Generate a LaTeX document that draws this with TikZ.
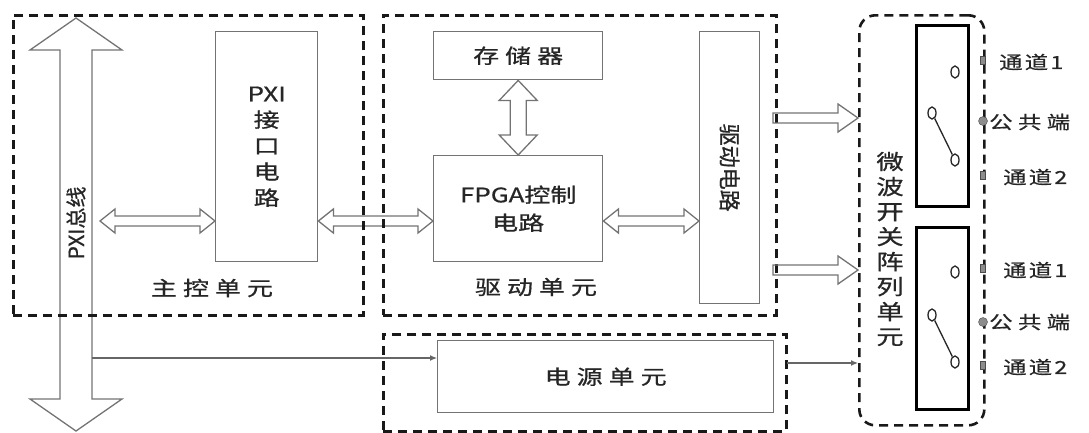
\documentclass[tikz,border=0pt]{standalone}
\usepackage{fontspec}
\setmainfont[FakeBold=0.8]{Noto Sans CJK SC}
\newfontfamily\cjkw[FakeStretch=1.3,FakeBold=0.8]{Noto Sans CJK SC}
\newfontfamily\cjkws[FakeStretch=1.3,FakeBold=0.8,LetterSpace=30]{Noto Sans CJK SC}
\newfontfamily\cjkwn[FakeStretch=1.3,FakeBold=0.8,LetterSpace=12]{Noto Sans CJK SC}
\usepackage{tikz}
\usetikzlibrary{arrows.meta, calc, shapes.geometric}

\tikzset{
  unitbox/.style={draw=black!90, line width=2.6pt, dash pattern=on 9pt off 6pt, inner sep=0, anchor=north west},
  blk/.style={draw=black!55, line width=1.4pt, inner sep=0, anchor=north west, text=black!85, align=center},
  swbox/.style={draw=black, line width=2.6pt, inner sep=0, anchor=north west},
  hollow/.style={draw=black!55, line width=1.3pt, line join=miter},
  thinarr/.style={-{Latex[length=7pt,width=6pt]}, draw=black!60, line width=1.2pt},
  contact/.style={ellipse, draw=black!85, line width=1.3pt, minimum width=8pt, minimum height=12pt, inner sep=0},
  term/.style={draw=black!70, fill=black!45, minimum width=5pt, minimum height=8pt, inner sep=0},
  termc/.style={circle, draw=black!70, fill=black!45, minimum size=9pt, inner sep=0},
  lbl/.style={text=black!85, inner sep=0},
}

% horizontal double hollow arrow
\newcommand{\dblh}[2]{%
  \draw[hollow] (#1) -- ($(#1)+(15,-12)$) -- ($(#1)+(15,-5)$) -- ($(#2)+(-15,-5)$) -- ($(#2)+(-15,-12)$) -- (#2)
    -- ($(#2)+(-15,12)$) -- ($(#2)+(-15,5)$) -- ($(#1)+(15,5)$) -- ($(#1)+(15,12)$) -- cycle;}
% vertical double hollow arrow: shaft, head, head length
\newcommand{\dblv}[5]{%
  \draw[hollow] (#1) -- ($(#1)+(#4,#5)$) -- ($(#1)+(#3,#5)$) -- ($(#2)+(#3,-#5)$) -- ($(#2)+(#4,-#5)$) -- (#2)
    -- ($(#2)+(-#4,-#5)$) -- ($(#2)+(-#3,-#5)$) -- ($(#1)+(-#3,#5)$) -- ($(#1)+(-#4,#5)$) -- cycle;}
% single hollow arrow
\newcommand{\sglh}[2]{%
  \draw[hollow] ($(#1)+(0,-5)$) -- ($(#2)+(-20,-5)$) -- ($(#2)+(-20,-14)$) -- (#2)
    -- ($(#2)+(-20,14)$) -- ($(#2)+(-20,5)$) -- ($(#1)+(0,5)$) -- cycle;}

\begin{document}
\begin{tikzpicture}[x=1pt,y=-1pt]
  \useasboundingbox (0,0) rectangle (1089,432);

  % PXI bus
  \coordinate (bustop) at (76,18);
  \coordinate (busbot) at (76,431);
  \dblv{bustop}{busbot}{16}{46}{32}
  \node[lbl, rotate=90, font=\fontsize{21}{24}\selectfont] (buslbl) at (76,223) {PXI总线};

  % Main control unit
  \node[blk, minimum width=102pt, minimum height=230pt, font=\cjkw\fontsize{20}{26}\selectfont] (pxi) at (215,31) {PXI\\接\\口\\电\\路};
  \node[lbl, font=\cjkws\fontsize{20}{24}\selectfont] (mainlbl) at (212,288) {主控单元};

  % Drive unit
  \node[blk, minimum width=169pt, minimum height=48pt, font=\cjkws\fontsize{20}{24}\selectfont] (mem) at (433,31) {存储器};
  \node[blk, minimum width=169pt, minimum height=106pt, font=\cjkw\fontsize{20}{28}\selectfont] (fpga) at (433,155) {FPGA控制\\电路};
  \node[blk, minimum width=60pt, minimum height=272pt] (drv) at (699,31) {};
  \node[lbl, rotate=-90, font=\fontsize{22}{24}\selectfont] (drvlbl) at (drv.center) {驱动电路};
  \node[lbl, font=\cjkws\fontsize{20}{24}\selectfont] (drvunitlbl) at (536,287) {驱动单元};

  % Power unit
  \node[blk, minimum width=336pt, minimum height=72pt, font=\cjkws\fontsize{20}{24}\selectfont] (pwr) at (437,340) {电源单元};

  % Microwave switch array
  \node[swbox, minimum width=52pt, minimum height=181pt] (sw1) at (915,24) {};
  \node[swbox, minimum width=52pt, minimum height=182pt] (sw2) at (915,226) {};
  \node[lbl, align=center, font=\cjkw\fontsize{21}{25}\selectfont] (swlbl) at (890,249) {微\\波\\开\\关\\阵\\列\\单\\元};

  % switch contacts
  \node[contact] (c1a) at (955,72) {};
  \node[contact] (c1b) at (932,113) {};
  \node[contact] (c1c) at (955,160) {};
  \draw[black!85, line width=1.3pt] (c1b) -- (c1c);
  \node[contact] (c2a) at (955,272) {};
  \node[contact] (c2b) at (932,315) {};
  \node[contact] (c2c) at (955,362) {};
  \draw[black!85, line width=1.3pt] (c2b) -- (c2c);

  % links
  \coordinate (lk) at (0,221);
  \coordinate (busR) at (100,221);
  \dblh{busR}{pxi.west |- lk}
  \dblh{pxi.east |- lk}{fpga.west |- lk}
  \dblh{fpga.east |- lk}{drv.west |- lk}
  \dblv{mem.south}{fpga.north}{8}{19}{20}
  \coordinate (tap) at (92,358);
  \draw[thinarr] (tap) -- (tap -| pwr.west);

  % Unit borders
  \node[unitbox, minimum width=350pt, minimum height=300pt] (main) at (12,14) {};
  \node[unitbox, minimum width=393pt, minimum height=300pt] (drvunit) at (382,14) {};
  \node[unitbox, minimum width=403pt, minimum height=97pt] (pwrunit) at (382,333) {};
  \node[unitbox, minimum width=125pt, minimum height=410pt, rounded corners=16pt] (swunit) at (858,14) {};

  % to switch array
  \coordinate (d1) at (773,118);
  \coordinate (d2) at (773,270);
  \sglh{d1}{d1 -| swunit.west}
  \sglh{d2}{d2 -| swunit.west}
  \coordinate (pout) at (787,363);
  \draw[thinarr] (pout) -- (pout -| swunit.west);

  % terminals
  \node[term] (t1a) at (983,60) {};
  \node[termc] (t1b) at (983,121) {};
  \node[term] (t1c) at (983,175) {};
  \node[term] (t2a) at (983,268) {};
  \node[termc] (t2b) at (983,322) {};
  \node[term] (t2c) at (983,365) {};
  \node[lbl, anchor=west, font=\cjkwn\fontsize{18}{20}\selectfont] (ch1a) at (999,62) {通道1};
  \node[lbl, anchor=west, font=\cjkws\fontsize{18}{20}\selectfont] (com1) at (989,122) {公共端};
  \node[lbl, anchor=west, font=\cjkwn\fontsize{18}{20}\selectfont] (ch1b) at (1003,177) {通道2};
  \node[lbl, anchor=west, font=\cjkwn\fontsize{18}{20}\selectfont] (ch2a) at (1003,270) {通道1};
  \node[lbl, anchor=west, font=\cjkws\fontsize{18}{20}\selectfont] (com2) at (989,322) {公共端};
  \node[lbl, anchor=west, font=\cjkwn\fontsize{18}{20}\selectfont] (ch2b) at (1003,367) {通道2};
\end{tikzpicture}
\end{document}
